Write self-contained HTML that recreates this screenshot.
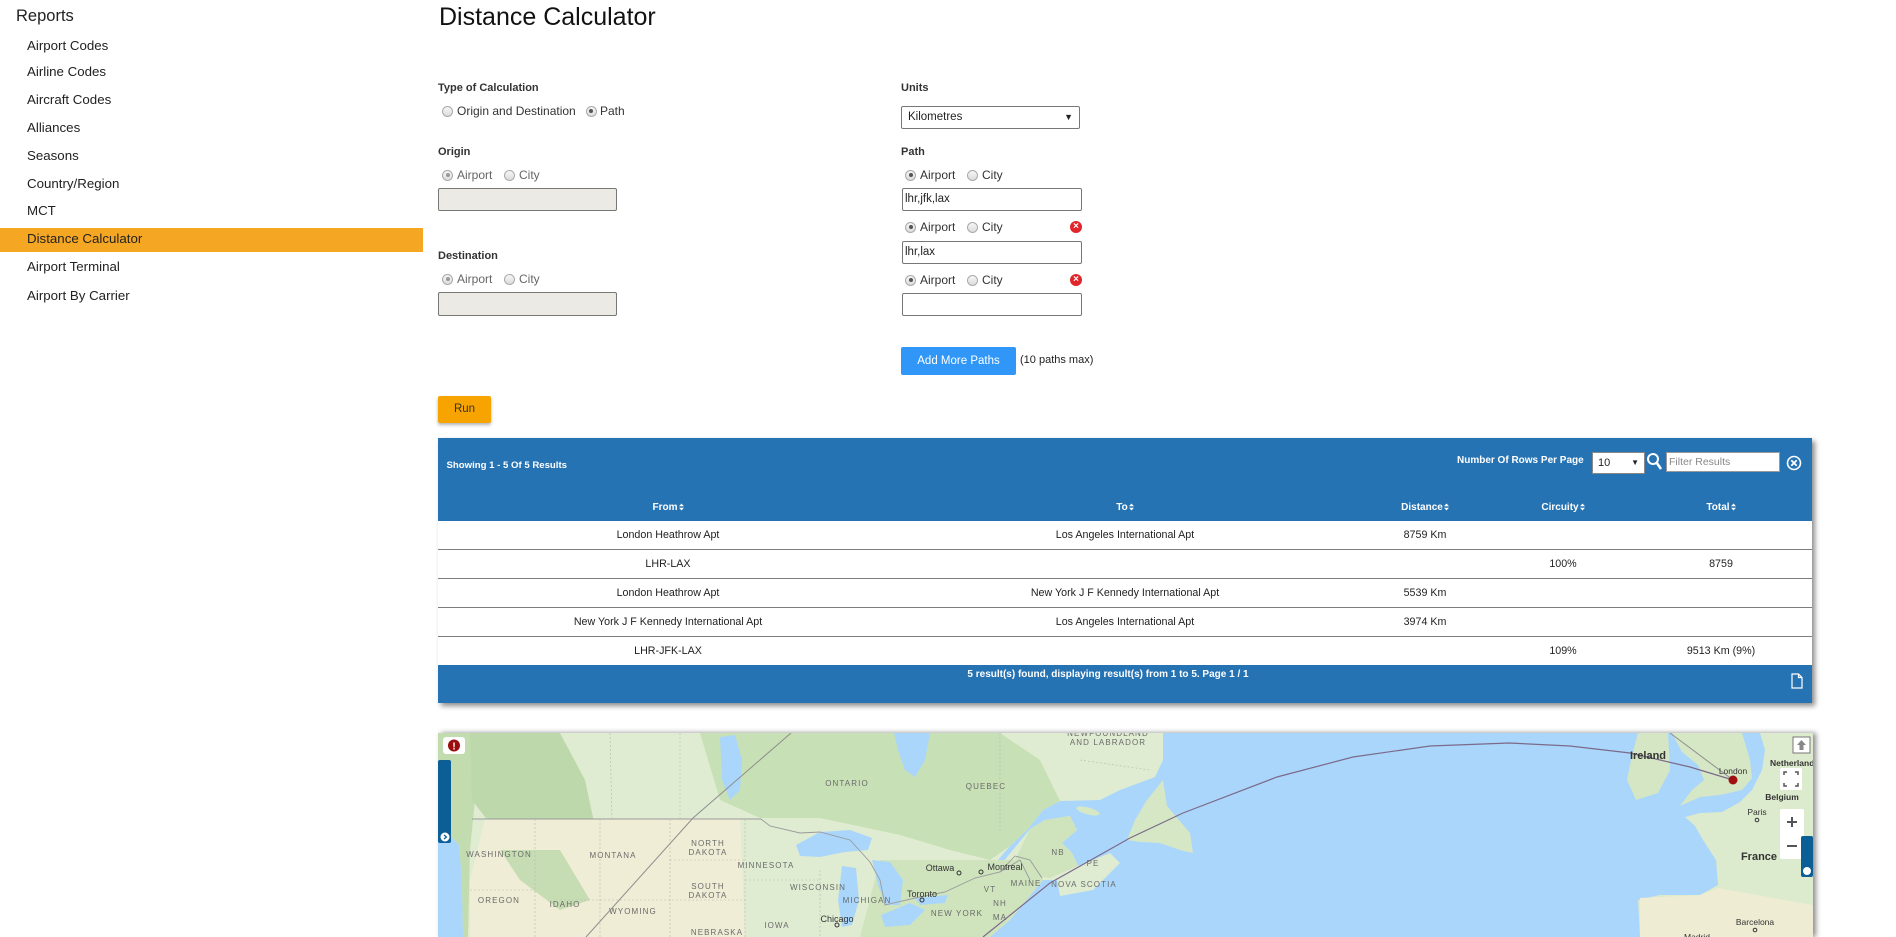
<!DOCTYPE html>
<html><head><meta charset="utf-8">
<style>
*{margin:0;padding:0;box-sizing:border-box}
body{width:1896px;height:937px;overflow:hidden;background:#fff;font-family:"Liberation Sans",sans-serif;color:#222;position:relative}
.a{position:absolute;white-space:nowrap}
.m{position:absolute;left:27px;font-size:13.3px;line-height:16px;color:#222;white-space:nowrap}
.lbl{position:absolute;font-size:11px;font-weight:bold;color:#333;line-height:14px;white-space:nowrap}
.rad{position:absolute;width:11px;height:11px;border-radius:50%;border:1px solid #a9a9a9;background:linear-gradient(#f6f6f6,#dcdcdc)}
.rad.on::after{content:"";position:absolute;left:2.5px;top:2.5px;width:4px;height:4px;border-radius:50%;background:#555}
.rad.dis::after{background:#999}
.rt{position:absolute;font-size:12px;line-height:14px;color:#333;white-space:nowrap}
.inp{position:absolute;border:1px solid #777;border-radius:2px;background:#fff;font-size:11.5px;line-height:20px;padding-left:2px;color:#222;white-space:nowrap}
.dis-in{background:#ebeae4}
.x{position:absolute;width:12px;height:12px;border-radius:50%;background:#e0262b;color:#fff;font-size:10px;line-height:12px;text-align:center;font-weight:bold}
.th{position:absolute;top:500px;height:15px;line-height:15px;font-size:10px;font-weight:bold;color:#fff;text-align:center;white-space:nowrap}
.td{position:absolute;height:14px;line-height:14px;font-size:10.7px;color:#222;text-align:center;white-space:nowrap}
.sort{display:inline-block;width:5px;height:8px;margin-left:1px;vertical-align:-1px}
.row{position:absolute;left:438px;width:1374px;height:1px;background:#7d7d7d}
</style></head><body>

<!-- Sidebar -->
<div class="a" style="left:16px;top:6px;font-size:16.5px;line-height:20px;color:#222">Reports</div>
<div style="position:absolute;left:0;top:228px;width:423px;height:24px;background:#f5a623"></div>
<div class="m" style="top:37.7px">Airport Codes</div>
<div class="m" style="top:64.3px">Airline Codes</div>
<div class="m" style="top:92.3px">Aircraft Codes</div>
<div class="m" style="top:120.3px">Alliances</div>
<div class="m" style="top:148.3px">Seasons</div>
<div class="m" style="top:176.3px">Country/Region</div>
<div class="m" style="top:203.3px">MCT</div>
<div class="m" style="top:231.3px">Distance Calculator</div>
<div class="m" style="top:259.3px">Airport Terminal</div>
<div class="m" style="top:287.7px">Airport By Carrier</div>

<!-- Title -->
<div class="a" style="left:439px;top:4.8px;font-size:25px;line-height:25px;color:#111">Distance Calculator</div>

<!-- Left form column -->
<div class="lbl" style="left:438px;top:81px">Type of Calculation</div>
<div class="rad" style="left:442px;top:105.5px"></div>
<div class="rt" style="left:457px;top:104px">Origin and Destination</div>
<div class="rad on" style="left:585.5px;top:105.5px"></div>
<div class="rt" style="left:600px;top:104px">Path</div>

<div class="lbl" style="left:438px;top:145px">Origin</div>
<div class="rad on dis" style="left:442px;top:169.5px"></div>
<div class="rt" style="left:457px;top:168px;color:#666">Airport</div>
<div class="rad" style="left:504px;top:169.5px"></div>
<div class="rt" style="left:519px;top:168px;color:#666">City</div>
<div class="inp dis-in" style="left:438px;top:188px;width:179px;height:23px"></div>

<div class="lbl" style="left:438px;top:249px">Destination</div>
<div class="rad on dis" style="left:442px;top:273.5px"></div>
<div class="rt" style="left:457px;top:272px;color:#666">Airport</div>
<div class="rad" style="left:504px;top:273.5px"></div>
<div class="rt" style="left:519px;top:272px;color:#666">City</div>
<div class="inp dis-in" style="left:438px;top:292px;width:179px;height:24px"></div>

<!-- Right form column -->
<div class="lbl" style="left:901px;top:81px">Units</div>
<div class="inp" style="left:901px;top:106px;width:179px;height:23px;padding-left:6px;line-height:21px">Kilometres<span style="position:absolute;right:6px;top:0;font-size:9px">&#9660;</span></div>

<div class="lbl" style="left:901px;top:145px">Path</div>
<div class="rad on" style="left:905px;top:169.8px"></div>
<div class="rt" style="left:920px;top:168.3px">Airport</div>
<div class="rad" style="left:967px;top:169.8px"></div>
<div class="rt" style="left:982px;top:168.3px">City</div>
<div class="inp" style="left:902px;top:188px;width:180px;height:23px">lhr,jfk,lax</div>

<div class="rad on" style="left:905px;top:221.8px"></div>
<div class="rt" style="left:920px;top:220.3px">Airport</div>
<div class="rad" style="left:967px;top:221.8px"></div>
<div class="rt" style="left:982px;top:220.3px">City</div>
<div class="x" style="left:1070px;top:221.3px">&#215;</div>
<div class="inp" style="left:902px;top:240.5px;width:180px;height:23px">lhr,lax</div>

<div class="rad on" style="left:905px;top:274.8px"></div>
<div class="rt" style="left:920px;top:273.3px">Airport</div>
<div class="rad" style="left:967px;top:274.8px"></div>
<div class="rt" style="left:982px;top:273.3px">City</div>
<div class="x" style="left:1070px;top:274.3px">&#215;</div>
<div class="inp" style="left:902px;top:293px;width:180px;height:23px"></div>

<div class="a" style="left:901px;top:347px;width:115px;height:28px;background:#3097f8;border-radius:2px;color:#fff;font-size:11.5px;line-height:28px;text-align:center">Add More Paths</div>
<div class="a" style="left:1020px;top:353px;font-size:11px;line-height:14px;color:#222">(10 paths max)</div>

<div class="a" style="left:438px;top:396px;width:53px;height:27px;background:#f7a400;border-radius:2px;color:#333;font-size:11.5px;line-height:27px;text-align:center;box-shadow:0 2px 3px rgba(0,0,0,.3)">Run</div>

<!-- Table -->
<div style="position:absolute;left:438px;top:438px;width:1374px;height:265px;background:#fff;box-shadow:3px 3px 5px rgba(0,0,0,.45)"></div>
<div style="position:absolute;left:438px;top:438px;width:1374px;height:83px;background:#2673b4"></div>
<div style="position:absolute;left:438px;top:665px;width:1374px;height:38px;background:#2673b4"></div>
<div class="a" style="left:446.5px;top:459px;font-size:9.6px;line-height:14px;font-weight:bold;color:#fff">Showing 1 - 5 Of 5 Results</div>
<div class="a" style="left:1457px;top:454px;width:126px;font-size:10px;line-height:14px;font-weight:bold;color:#fff;text-align:right">Number Of Rows Per Page</div>
<div class="a" style="left:1592px;top:452px;width:53px;height:22px;background:#fff;border:1px solid #888;font-size:11px;line-height:20px;padding-left:5px;color:#222">10<span style="position:absolute;right:5px;top:0;font-size:8px">&#9660;</span></div>
<svg class="a" style="left:1646px;top:452px" width="17" height="20" viewBox="0 0 17 20"><circle cx="7" cy="7" r="5" fill="none" stroke="#fff" stroke-width="2"/><line x1="10.5" y1="10.5" x2="15" y2="17" stroke="#fff" stroke-width="2.5"/></svg>
<div class="a" style="left:1666px;top:452px;width:114px;height:20px;background:#fff;border:1px solid #999;font-size:10.5px;line-height:18px;padding-left:2px;color:#888">Filter Results</div>
<svg class="a" style="left:1786px;top:455px" width="16" height="16" viewBox="0 0 16 16"><circle cx="8" cy="8" r="6.5" fill="none" stroke="#fff" stroke-width="1.6"/><path d="M5.3 5.3 L10.7 10.7 M10.7 5.3 L5.3 10.7" stroke="#fff" stroke-width="1.8"/></svg>

<div class="th" style="left:568px;width:200px">From<svg class="sort" viewBox="0 0 5 8"><path d="M0 3.3L2.5 .5 5 3.3Z M0 4.7L2.5 7.5 5 4.7Z" fill="#fff"/></svg></div>
<div class="th" style="left:1025px;width:200px">To<svg class="sort" viewBox="0 0 5 8"><path d="M0 3.3L2.5 .5 5 3.3Z M0 4.7L2.5 7.5 5 4.7Z" fill="#fff"/></svg></div>
<div class="th" style="left:1375px;width:100px">Distance<svg class="sort" viewBox="0 0 5 8"><path d="M0 3.3L2.5 .5 5 3.3Z M0 4.7L2.5 7.5 5 4.7Z" fill="#fff"/></svg></div>
<div class="th" style="left:1513px;width:100px">Circuity<svg class="sort" viewBox="0 0 5 8"><path d="M0 3.3L2.5 .5 5 3.3Z M0 4.7L2.5 7.5 5 4.7Z" fill="#fff"/></svg></div>
<div class="th" style="left:1671px;width:100px">Total<svg class="sort" viewBox="0 0 5 8"><path d="M0 3.3L2.5 .5 5 3.3Z M0 4.7L2.5 7.5 5 4.7Z" fill="#fff"/></svg></div>

<div class="row" style="top:549px"></div>
<div class="row" style="top:578px"></div>
<div class="row" style="top:607px"></div>
<div class="row" style="top:636px"></div>

<div class="td" style="left:518px;width:300px;top:528px">London Heathrow Apt</div>
<div class="td" style="left:975px;width:300px;top:528px">Los Angeles International Apt</div>
<div class="td" style="left:1375px;width:100px;top:528px">8759 Km</div>

<div class="td" style="left:518px;width:300px;top:557px">LHR-LAX</div>
<div class="td" style="left:1513px;width:100px;top:557px">100%</div>
<div class="td" style="left:1671px;width:100px;top:557px">8759</div>

<div class="td" style="left:518px;width:300px;top:586px">London Heathrow Apt</div>
<div class="td" style="left:975px;width:300px;top:586px">New York J F Kennedy International Apt</div>
<div class="td" style="left:1375px;width:100px;top:586px">5539 Km</div>

<div class="td" style="left:518px;width:300px;top:615px">New York J F Kennedy International Apt</div>
<div class="td" style="left:975px;width:300px;top:615px">Los Angeles International Apt</div>
<div class="td" style="left:1375px;width:100px;top:615px">3974 Km</div>

<div class="td" style="left:518px;width:300px;top:644px">LHR-JFK-LAX</div>
<div class="td" style="left:1513px;width:100px;top:644px">109%</div>
<div class="td" style="left:1671px;width:100px;top:644px">9513 Km (9%)</div>

<div class="a" style="left:908px;width:400px;top:668px;font-size:10px;line-height:14px;font-weight:bold;color:#fff;text-align:center">5 result(s) found, displaying result(s) from 1 to 5. Page 1 / 1</div>
<svg class="a" style="left:1791px;top:673px" width="12" height="16" viewBox="0 0 12 16"><path d="M1 1 H7.5 L11 4.5 V15 H1 Z M7.5 1 V4.5 H11" fill="none" stroke="#fff" stroke-width="1.2"/></svg>

<!-- Map -->
<div style="position:absolute;left:438px;top:733px;width:1375px;height:204px;box-shadow:3px 0 5px rgba(0,0,0,.45)"></div>
<svg class="a" style="left:438px;top:733px" width="1375" height="204" viewBox="438 733 1375 204" font-family="Liberation Sans, sans-serif">
<rect x="438" y="733" width="1375" height="204" fill="#aad6fb"/>
<!-- North America -->
<path d="M438,733 L1163,733 L1163,760 L1155,777 L1120,790 L1100,800 L1060,801 L1043,810 L1027,830 L1010,846 L998,860 L1003,862 L1030,829 L1045,820 L1070,816 L1077,830 L1062,843 L1072,853 L1078,866 L1093,860 L1110,853 L1120,863 L1093,890 L1060,896 L1057,880 L1043,880 L1010,920 L980,937 L463,937 L462,880 L459,845 L447,832 L438,828 Z" fill="#e0ecd2"/>
<path d="M1163,780 L1167,806 L1190,833 L1193,853 L1180,850 L1160,843 L1140,842 L1127,840 L1135,820 L1147,800 Z" fill="#d6e7c5"/>
<ellipse cx="1088" cy="811" rx="12" ry="3.5" transform="rotate(15 1088 811)" fill="#d6e7c5"/>
<!-- tints -->
<path d="M438,733 L470,733 L475,800 L470,850 L468,937 L463,937 L462,880 L459,845 L447,832 L438,828 Z" fill="#c2dcb0"/>
<path d="M470,733 L560,733 L585,780 L600,850 L585,900 L545,905 L520,860 L495,830 L472,800 Z" fill="#bdd8aa"/>
<path d="M485,819 L740,819 L745,937 L470,937 L470,880 Z" fill="#f0edd6"/>
<path d="M500,850 L560,850 L590,900 L560,910 L520,880 Z" fill="#c6ddb3"/>
<path d="M700,733 L1000,733 L1040,760 L1060,801 L1043,810 L1027,830 L1010,846 L990,860 L950,850 L900,835 L820,818 L760,818 L720,800 Z" fill="#c8e0b6"/>
<path d="M1030,829 L1045,820 L1070,816 L1077,830 L1062,843 L1072,853 L1078,866 L1050,878 L1030,875 L1010,870 Z" fill="#cfe4bd"/>
<path d="M880,860 L1040,860 L1043,880 L1010,920 L990,937 L860,937 Z" fill="#cfe4bd"/>
<!-- lakes -->
<path d="M720,737 L735,735 L742,760 L740,790 L730,800 L722,780 Z" fill="#aad6fb"/>
<path d="M894,733 L930,733 L925,760 L915,777 L905,770 L898,750 Z" fill="#aad6fb"/>
<path d="M796,845 L820,832 L850,830 L872,838 L868,850 L845,852 L820,857 L800,856 Z" fill="#aad6fb"/>
<path d="M842,866 L856,868 L859,900 L852,925 L842,927 L838,900 Z" fill="#aad6fb"/>
<path d="M872,860 L890,862 L903,880 L900,905 L886,905 L878,885 Z" fill="#aad6fb"/>
<path d="M881,915 L910,903 L925,910 L910,925 L885,927 Z" fill="#aad6fb"/>
<path d="M915,898 L948,895 L945,903 L920,905 Z" fill="#aad6fb"/>
<!-- borders -->
<path d="M472,819 L761,819 L770,826 L800,833 L820,832 L850,840 L870,862 L880,880 L885,905 L915,898 L945,892 L975,878 L1000,872 L1020,860 L1030,880" fill="none" stroke="#9a9a9a" stroke-width="0.9"/>
<path d="M1000,872 L1015,856 L1030,860 L1042,878" fill="none" stroke="#9a9a9a" stroke-width="0.9"/>
<g fill="none" stroke="#b8b8a8" stroke-width="0.6" stroke-dasharray="2,2">
<path d="M535,819 L535,937 M600,819 L600,937 M670,819 L670,937 M745,819 L745,937 M560,900 L745,900 M470,890 L535,890 M745,880 L820,880 M670,860 L745,860 M820,870 L820,937"/>
<path d="M610,733 L612,819 M680,733 L680,819 M1000,733 L1000,830 M1080,760 L1150,770"/>
</g>
<!-- Europe -->
<path d="M1638,733 L1668,733 L1670,770 L1658,793 L1636,800 L1627,780 L1632,755 Z" fill="#d4e6c3"/>
<path d="M1672,733 L1742,733 L1750,760 L1752,778 L1742,790 L1720,795 L1700,797 L1680,806 L1692,790 L1704,780 L1698,765 L1682,752 Z" fill="#d6e7c5"/>
<path d="M1760,733 L1813,733 L1813,937 L1640,937 L1638,900 L1660,895 L1700,895 L1718,885 L1716,860 L1703,840 L1695,826 L1685,817 L1700,813 L1722,812 L1740,802 L1752,790 L1762,770 L1765,750 Z" fill="#dceacd"/>
<path d="M1640,898 L1700,895 L1718,888 L1813,905 L1813,937 L1640,937 Z" fill="#efecd4"/>
<!-- routes -->
<path d="M586,937 L693,818 L791,733" fill="none" stroke="#8e8e8e" stroke-width="1"/>
<path d="M1733,780 L1670,733" fill="none" stroke="#8e8e8e" stroke-width="1"/>
<path d="M983,937 L1050,883 L1130,838 L1183,813 L1277,777 L1353,757 L1430,746 L1509,743 L1570,746 L1630,753 L1690,767 L1733,780" fill="none" stroke="#7b6a8a" stroke-width="1.2"/>
<circle cx="1733" cy="780" r="4.5" fill="#a01010"/>
<!-- labels -->
<g font-size="8px" fill="#6a6a6a" letter-spacing="1.1" text-anchor="middle">
<text x="847" y="786">ONTARIO</text><text x="986" y="789">QUEBEC</text>
<text x="708" y="846">NORTH</text><text x="708" y="855">DAKOTA</text>
<text x="499" y="857">WASHINGTON</text><text x="613" y="858">MONTANA</text>
<text x="766" y="868">MINNESOTA</text>
<text x="708" y="889">SOUTH</text><text x="708" y="898">DAKOTA</text>
<text x="818" y="890">WISCONSIN</text><text x="499" y="903">OREGON</text>
<text x="565" y="907">IDAHO</text><text x="867" y="903">MICHIGAN</text>
<text x="633" y="914">WYOMING</text><text x="957" y="916">NEW YORK</text>
<text x="777" y="928">IOWA</text><text x="717" y="935">NEBRASKA</text>
<text x="1026" y="886">MAINE</text><text x="1058" y="855">NB</text>
<text x="1084" y="887">NOVA SCOTIA</text><text x="990" y="892">VT</text>
<text x="1000" y="906">NH</text><text x="1000" y="920">MA</text>
<text x="1093" y="866">PE</text>
<text x="1108" y="736">NEWFOUNDLAND</text><text x="1108" y="745">AND LABRADOR</text>
</g>
<g font-size="9px" fill="#333" text-anchor="middle">
<text x="940" y="871">Ottawa</text><text x="1005" y="870">Montreal</text>
<text x="922" y="897">Toronto</text><text x="837" y="922">Chicago</text>
<text x="1733" y="774" font-size="8.5px">London</text>
<text x="1757" y="815" font-size="8.5px">Paris</text>
<text x="1755" y="925" font-size="8.5px">Barcelona</text>
<text x="1697" y="940" font-size="8.5px">Madrid</text>
</g>
<g font-weight="bold" fill="#333" text-anchor="middle">
<text x="1648" y="759" font-size="11px">Ireland</text>
<text x="1759" y="860" font-size="11px">France</text>
<text x="1782" y="800" font-size="8.5px">Belgium</text>
<text x="1770" y="766" font-size="8.5px" text-anchor="start">Netherlands</text>
</g>
<g fill="none" stroke="#333" stroke-width="1">
<circle cx="959" cy="873" r="2"/><circle cx="981" cy="872" r="2"/><circle cx="922" cy="900" r="2"/><circle cx="837" cy="925" r="2"/><circle cx="1757" cy="820" r="1.8"/><circle cx="1755" cy="930" r="1.8"/>
</g>
<!-- controls -->
<rect x="443" y="737" width="22" height="17" rx="3" fill="#fff"/>
<circle cx="454" cy="745.5" r="6" fill="#9b0d0d"/>
<text x="454" y="749.5" font-size="10px" font-weight="bold" fill="#fff" text-anchor="middle">!</text>
<rect x="438" y="760" width="13" height="83" rx="2" fill="#0b5e96"/>
<circle cx="445" cy="837" r="4.5" fill="#fff"/>
<path d="M444,835 L446.5,837 L444,839" fill="none" stroke="#0b5e96" stroke-width="1.2"/>
<rect x="1793" y="737" width="17" height="16" fill="#fff" stroke="#777" stroke-width="1"/>
<path d="M1801.5,740 L1806,745 L1803.5,745 L1803.5,750 L1799.5,750 L1799.5,745 L1797,745 Z" fill="#888"/>
<rect x="1780" y="768" width="22" height="22" rx="2" fill="#fff"/>
<path d="M1784,775 V772 H1787 M1795,772 H1798 V775 M1798,783 V786 H1795 M1787,786 H1784 V783" fill="none" stroke="#555" stroke-width="1.5"/>
<rect x="1780" y="809" width="24" height="50" rx="2" fill="#fff"/>
<path d="M1787,822 H1797 M1792,817 V827 M1787,846 H1797" stroke="#555" stroke-width="2"/>
<rect x="1801" y="836" width="12" height="41" rx="2" fill="#0b5e96"/>
<circle cx="1807" cy="871" r="4" fill="#fff"/>
</svg>
</body></html>
